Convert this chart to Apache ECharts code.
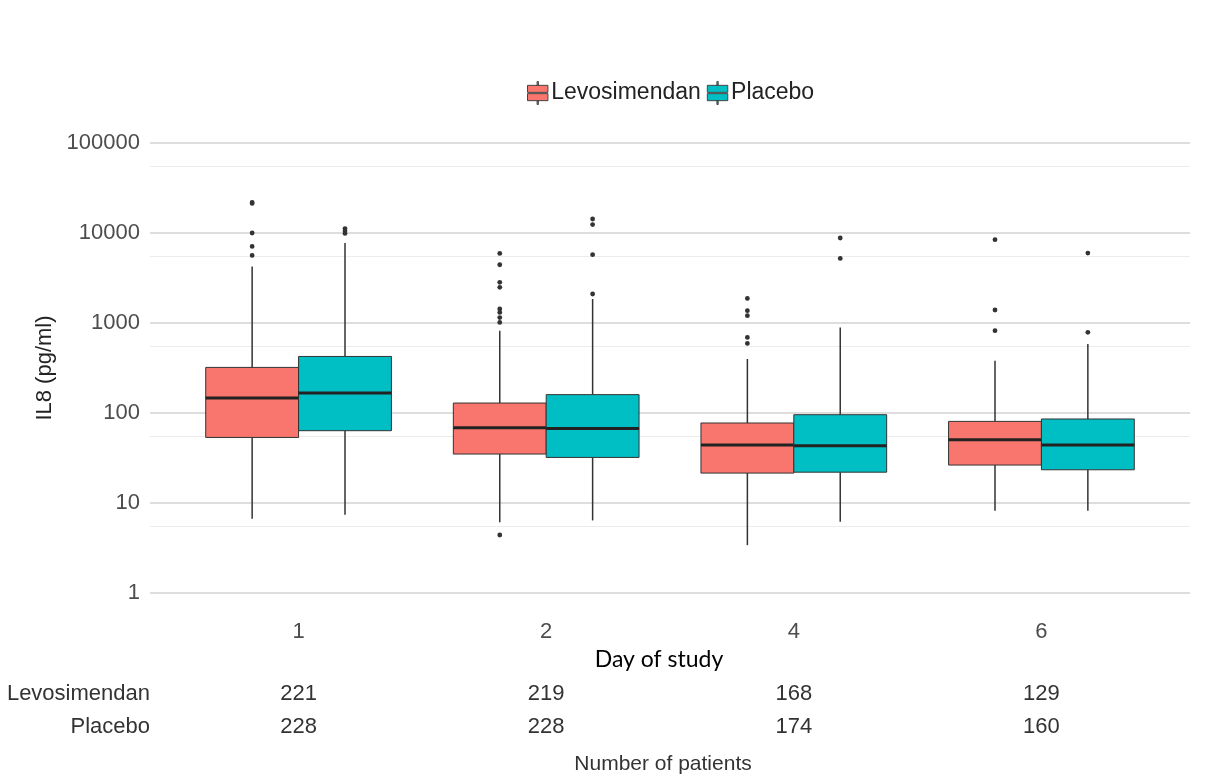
<!DOCTYPE html>
<html>
<head>
<meta charset="utf-8">
<script src="https://cdn.jsdelivr.net/npm/echarts@6/dist/echarts.min.js"></script>
<style>
html,body{margin:0;padding:0;background:#fff;}
#chart{width:1208px;height:780px;}
</style>
</head>
<body>
<div id="chart"></div>
<script>
// ---- data ----
const days = ['1', '2', '4', '6'];
const seriesNames = ['Levosimendan', 'Placebo'];
// [lower whisker, Q1, median, Q3, upper whisker]
const levoStats = [
  [6.7, 53.5, 147, 321, 4256],
  [6.1, 35, 68.7, 129, 821],
  [3.4, 21.5, 44.1, 77.4, 398],
  [8.2, 26.4, 50.5, 80.7, 381]
];
const placeboStats = [
  [7.4, 63.6, 167, 425, 7740],
  [6.4, 32.1, 67.4, 160, 1848],
  [6.2, 22, 43.3, 95.7, 894],
  [8.2, 23.4, 44.1, 85.8, 584]
];
const levoOutliers = [
  [21900, 21300, 10000, 7100, 5640],
  [5930, 4440, 2830, 2490, 1430, 1310, 1150, 1015, 4.41],
  [1877, 1370, 1205, 692, 593],
  [8430, 1394, 821]
];
const placeboOutliers = [
  [11200, 10500, 9900],
  [14300, 12400, 5740, 2100],
  [8800, 5220],
  [5990, 787]
];
const nLevo = [221, 219, 168, 129];
const nPlacebo = [228, 228, 174, 160];
const yTicks = [1, 10, 100, 1000, 10000, 100000];

// ---- styling ----
const colors = ['#F8766D', '#00BFC4'];
const dodge = [-0.1875, 0.1875];
const boxHalf = 0.1875;
const FONT = '"Liberation Sans", Arial, sans-serif';

function boxData(stats) {
  return stats.map((s, i) => [i + 1].concat(s));
}
function outlierData(outs) {
  const arr = [];
  outs.forEach((list, i) => list.forEach(v => arr.push([i + 1, v])));
  return arr;
}

function makeBoxRender(k) {
  return function (params, api) {
    const x = api.value(0) + dodge[k];
    const low = api.value(1), q1 = api.value(2), med = api.value(3), q3 = api.value(4), high = api.value(5);
    const pL = api.coord([x - boxHalf, med]);
    const pR = api.coord([x + boxHalf, med]);
    const cx = api.coord([x, med])[0];
    const yLow = api.coord([x, low])[1];
    const yQ1 = api.coord([x, q1])[1];
    const yQ3 = api.coord([x, q3])[1];
    const yHigh = api.coord([x, high])[1];
    return {
      type: 'group',
      children: [
        { type: 'line', shape: { x1: cx, y1: yQ3, x2: cx, y2: yHigh }, style: { stroke: '#333', lineWidth: 1.5 } },
        { type: 'line', shape: { x1: cx, y1: yQ1, x2: cx, y2: yLow }, style: { stroke: '#333', lineWidth: 1.5 } },
        { type: 'rect', shape: { x: pL[0], y: yQ3, width: pR[0] - pL[0], height: yQ1 - yQ3 },
          style: { fill: colors[k], stroke: '#333', lineWidth: 1 } },
        { type: 'line', shape: { x1: pL[0], y1: pL[1], x2: pR[0], y2: pR[1] }, style: { stroke: '#222', lineWidth: 3 } }
      ]
    };
  };
}
function makeOutlierRender(k) {
  return function (params, api) {
    const p = api.coord([api.value(0) + dodge[k], api.value(1)]);
    return { type: 'circle', shape: { cx: p[0], cy: p[1], r: 2.4 }, style: { fill: '#333' } };
  };
}

const legendIcon = 'path://M0,3H16V8.5H0Z M0,9.5H16V15H0Z M7.5,0H8.5V3H7.5Z M7.5,15H8.5V18H7.5Z';

const xBase = {
  type: 'value', min: 0.4, max: 4.6, gridIndex: 0, position: 'bottom', offset: 0,
  axisLine: { show: false, onZero: false }, axisTick: { show: false }, splitLine: { show: false }
};

const option = {
  backgroundColor: '#fff',
  animation: false,
  grid: { left: 150, right: 18, top: 143, bottom: 187 },
  legend: {
    data: seriesNames.map((n, k) => ({ name: n, itemStyle: { color: colors[k], borderColor: '#444', borderWidth: 1 } })),
    icon: legendIcon,
    left: 522, top: 76,
    itemWidth: 21, itemHeight: 23, itemGap: 6,
    textStyle: { fontFamily: FONT, fontSize: 23, color: '#222', padding: [0, 0, 0, -2] }
  },
  xAxis: [
    Object.assign({}, xBase, {
      axisLabel: { customValues: [1, 2, 3, 4], formatter: v => days[Math.round(v) - 1] || '',
        margin: 28, fontFamily: FONT, fontSize: 22, color: '#4d4d4d' }
    }),
    Object.assign({}, xBase, {
      axisLabel: { customValues: [1, 2, 3, 4], formatter: v => String(nLevo[Math.round(v) - 1]),
        margin: 90, fontFamily: FONT, fontSize: 22, color: '#333' }
    }),
    Object.assign({}, xBase, {
      axisLabel: { customValues: [1, 2, 3, 4], formatter: v => String(nPlacebo[Math.round(v) - 1]),
        margin: 123, fontFamily: FONT, fontSize: 22, color: '#333' }
    })
  ],
  yAxis: {
    type: 'log', logBase: 10, min: 1, max: 100000,
    name: 'IL8 (pg/ml)', nameLocation: 'middle', nameGap: 93,
    nameTextStyle: { fontFamily: FONT, fontSize: 22, color: '#222' },
    axisLine: { show: false }, axisTick: { show: false },
    axisLabel: { margin: 10, fontFamily: FONT, fontSize: 22, color: '#4d4d4d',
      customValues: yTicks, formatter: v => String(Math.round(v)) },
    splitLine: { show: true, lineStyle: { color: '#d2d2d2', width: 1.6 } },
    minorTick: { show: false, splitNumber: 2 },
    minorSplitLine: { show: true, lineStyle: { color: '#ececec', width: 1 } }
  },
  graphic: [
    { type: 'text', x: 150, y: 694, style: { text: 'Levosimendan', font: '22px ' + FONT, fill: '#333', textAlign: 'right', textVerticalAlign: 'middle' } },
    { type: 'text', x: 150, y: 727, style: { text: 'Placebo', font: '22px ' + FONT, fill: '#333', textAlign: 'right', textVerticalAlign: 'middle' } },
    { type: 'text', x: 659, y: 660, style: { text: 'Day of study', font: '23px Lato, "Open Sans", sans-serif', fill: '#000', textAlign: 'center', textVerticalAlign: 'middle' } },
    { type: 'text', x: 663, y: 764, style: { text: 'Number of patients', font: '21px ' + FONT, fill: '#333', textAlign: 'center', textVerticalAlign: 'middle' } }
  ],
  series: []
};

seriesNames.forEach((name, k) => {
  const stats = k === 0 ? levoStats : placeboStats;
  const outs = k === 0 ? levoOutliers : placeboOutliers;
  option.series.push({
    type: 'custom', name: name, xAxisIndex: 0, yAxisIndex: 0,
    itemStyle: { color: colors[k] },
    renderItem: makeBoxRender(k),
    encode: { x: 0, y: [1, 2, 3, 4, 5] },
    data: boxData(stats), z: 3
  });
  option.series.push({
    type: 'custom', name: name, xAxisIndex: 0, yAxisIndex: 0,
    itemStyle: { color: colors[k] },
    renderItem: makeOutlierRender(k),
    encode: { x: 0, y: 1 },
    data: outlierData(outs), z: 4
  });
});

const chart = echarts.init(document.getElementById('chart'), null, { renderer: 'canvas' });
chart.setOption(option);
</script>
</body>
</html>
